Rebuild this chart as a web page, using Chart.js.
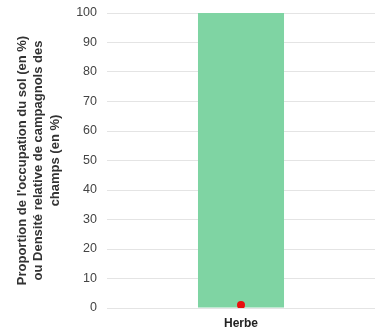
<!DOCTYPE html>
<html lang="fr">
<head>
  <meta charset="UTF-8" />
  <title>Herbe</title>
  <script src="https://cdn.jsdelivr.net/npm/chart.js"></script>
  <style>
    body { margin: 0; background: #fff; }
    #wrap { width: 379px; height: 332px; }
  </style>
</head>
<body>
  <div id="wrap"><canvas id="c" width="379" height="332"></canvas></div>
  <script>
    const categories = ['Herbe'];
    const occupation = [100];
    const densite = [1];
    const yTitle = [
      "Proportion de l'occupation du sol (en %)",
      'ou Densité relative de campagnols des',
      'champs (en %)'
    ];

    Chart.defaults.font.family = "'Liberation Sans', Arial, sans-serif";

    new Chart(document.getElementById('c').getContext('2d'), {
      type: 'bar',
      data: {
        labels: categories,
        datasets: [
          {
            type: 'line',
            data: densite,
            showLine: false,
            pointRadius: 4,
            pointBackgroundColor: '#e8100f',
            pointBorderWidth: 0,
            order: 0
          },
          {
            data: occupation,
            backgroundColor: '#7fd4a3',
            barPercentage: 0.321,
            categoryPercentage: 1,
            order: 1
          }
        ]
      },
      options: {
        responsive: false,
        animation: false,
        layout: { padding: { top: 13, right: 1, bottom: 0, left: 0 } },
        plugins: { legend: { display: false }, tooltip: { enabled: false } },
        scales: {
          x: {
            afterFit: s => { s.height = 24; },
            grid: { display: false },
            border: { display: false },
            ticks: { color: '#222', font: { size: 12, weight: 'bold' }, padding: 0 }
          },
          y: {
            min: 0,
            max: 100,
            afterFit: s => { s.width = 107; },
            grid: { color: '#e4e4e4', drawTicks: true, tickLength: 10, tickColor: 'rgba(0,0,0,0)' },
            border: { display: false },
            ticks: { stepSize: 10, color: '#444', font: { size: 12.5 }, padding: 0 },
            title: {
              display: true,
              text: yTitle,
              color: '#333',
              font: { size: 13, weight: 'bold', lineHeight: 1.27 },
              padding: { top: 14, bottom: 0 }
            }
          }
        }
      }
    });
  </script>
</body>
</html>
